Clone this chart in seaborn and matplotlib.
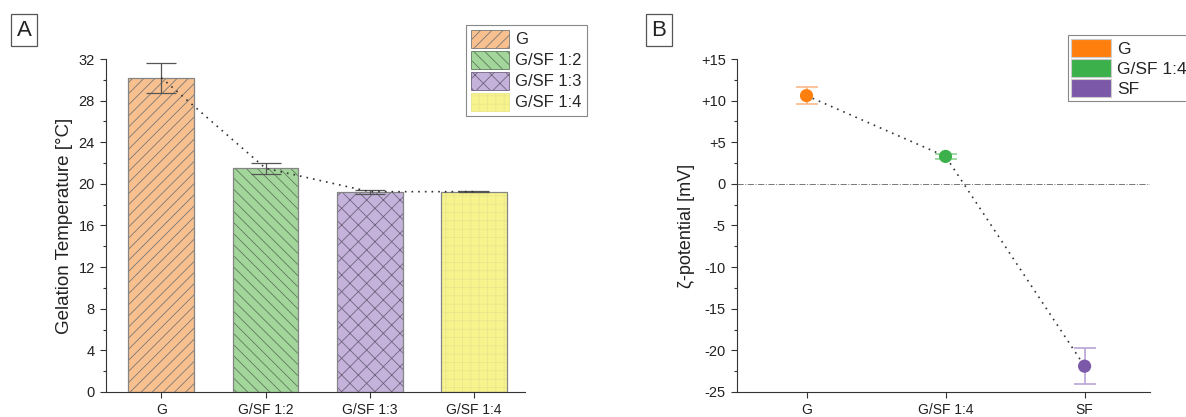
import matplotlib
matplotlib.use("Agg")
import matplotlib.pyplot as plt
import matplotlib.patches as mpatches
from matplotlib.ticker import MultipleLocator, FuncFormatter
import pandas as pd
import seaborn as sns

# --- data ---
gel_samples = ["G", "G/SF 1:2", "G/SF 1:3", "G/SF 1:4"]
gel_temp = [30.2, 21.5, 19.25, 19.25]
gel_err = [1.45, 0.55, 0.2, 0.05]

zeta_samples = ["G", "G/SF 1:4", "SF"]
zeta_mean = [10.6, 3.3, -21.9]
zeta_err = [1.05, 0.3, 2.2]

# styles
bar_colors = ["#F9C08F", "#A3D69B", "#C4B2DA", "#F7F48E"]
bar_hatches = ["///", "\\\\\\", "xx", "++"]
hatch_colors = ["#777777", "#5f7a5c", "#6f6480", "#eae68c"]
pt_colors = ["#FF7F0E", "#3CB04A", "#7B59A8"]
err_colors = ["#F9B98A", "#8ED394", "#B9A5D6"]
axis_col = "#333333"
edge_col = "#858585"

sns.set_style("ticks")
plt.rcParams["font.family"] = ["Liberation Sans", "DejaVu Sans"]
plt.rcParams["hatch.linewidth"] = 0.6
plt.rcParams["axes.edgecolor"] = axis_col
plt.rcParams["xtick.color"] = axis_col
plt.rcParams["ytick.color"] = axis_col

fig = plt.figure(figsize=(11.86, 4.17), dpi=100)
ax_a = fig.add_axes([0.0894, 0.06, 0.3533, 0.7985])
ax_b = fig.add_axes([0.6214, 0.06, 0.3482, 0.7985])

# ---------- panel A ----------
df_a = pd.DataFrame({"sample": gel_samples, "temp": gel_temp})
sns.barplot(data=df_a, x="sample", y="temp", hue="sample", palette=bar_colors,
            saturation=1, width=0.63, linewidth=0.6, legend=False, ax=ax_a)
# hatch takes the patch edge colour, so draw the outline separately
for patch, h, hc in zip(ax_a.patches, bar_hatches, hatch_colors):
    patch.set_hatch(h)
    patch.set_edgecolor(hc)
    bb = patch.get_bbox()
    ax_a.add_patch(mpatches.Rectangle((bb.x0, bb.y0), bb.width, bb.height, fill=False,
                                      edgecolor=edge_col, linewidth=0.9, zorder=3))
ax_a.errorbar(range(len(gel_samples)), gel_temp, yerr=gel_err, fmt="none",
              ecolor="#555555", elinewidth=0.9, capsize=11, capthick=0.9, zorder=5)
ax_a.plot(range(len(gel_samples)), gel_temp, linestyle=(0, (1, 3)), color="#333333",
          linewidth=1.2, zorder=6)

ax_a.set_xlim(-0.53, 3.49)
ax_a.set_ylim(0, 32)
ax_a.yaxis.set_major_locator(MultipleLocator(4))
ax_a.yaxis.set_minor_locator(MultipleLocator(2))
ax_a.set_xlabel("")
ax_a.set_ylabel("Gelation Temperature [°C]", fontsize=13.5, color="#222222", labelpad=4)
ax_a.tick_params(axis="both", labelsize=10.5, labelcolor="#222222", length=4.5, width=0.8)
ax_a.tick_params(axis="x", labelsize=10)
ax_a.tick_params(axis="y", which="minor", length=2.5, width=0.8)
sns.despine(ax=ax_a)

handles_a = [mpatches.Patch(facecolor=c, hatch=h, edgecolor=hc, linewidth=0.6, label=s)
             for c, h, hc, s in zip(bar_colors, bar_hatches, hatch_colors, gel_samples)]
leg_a = fig.legend(handles=handles_a, loc="upper left", bbox_to_anchor=(0.393, 0.94),
                   borderaxespad=0, fontsize=12, handlelength=2.3, handleheight=1.25,
                   labelspacing=0.2, handletextpad=0.35, borderpad=0.3, fancybox=False,
                   framealpha=1, edgecolor="#888888")
leg_a.get_frame().set_linewidth(0.8)

# ---------- panel B ----------
df_b = pd.DataFrame({"sample": zeta_samples, "zeta": zeta_mean})
ax_b.axhline(0, color="#777777", linestyle="-.", linewidth=0.7, zorder=1)
ax_b.plot(range(len(zeta_samples)), zeta_mean, linestyle=(0, (1, 3)), color="#333333",
          linewidth=1.2, zorder=2)
for i in range(len(zeta_samples)):
    ax_b.errorbar(i, zeta_mean[i], yerr=zeta_err[i], fmt="none", ecolor=err_colors[i],
                  elinewidth=1.2, capsize=8, capthick=1.2, zorder=3)
sns.scatterplot(data=df_b, x="sample", y="zeta", hue="sample", palette=pt_colors,
                s=90, edgecolor="none", legend=False, zorder=4, ax=ax_b)

ax_b.set_xlim(-0.5, 2.47)
ax_b.set_ylim(-25, 15)
ax_b.yaxis.set_major_locator(MultipleLocator(5))
ax_b.yaxis.set_minor_locator(MultipleLocator(2.5))
ax_b.yaxis.set_major_formatter(FuncFormatter(lambda v, p: f"+{v:g}" if v > 0 else f"{v:g}"))
ax_b.set_xlabel("")
ax_b.set_ylabel("ζ-potential [mV]", fontsize=13, color="#222222", labelpad=4)
ax_b.tick_params(axis="both", labelsize=10.5, labelcolor="#222222", length=4.5, width=0.8)
ax_b.tick_params(axis="x", labelsize=10)
ax_b.tick_params(axis="y", which="minor", length=2.5, width=0.8)
sns.despine(ax=ax_b)

handles_b = [mpatches.Patch(facecolor=c, edgecolor="#cccccc", linewidth=0.8, label=s)
             for c, s in zip(pt_colors, zeta_samples)]
leg_b = fig.legend(handles=handles_b, loc="upper left", bbox_to_anchor=(0.9005, 0.916),
                   borderaxespad=0, fontsize=12.5, handlelength=2.3, handleheight=1.25,
                   labelspacing=0.1, handletextpad=0.35, borderpad=0.2, fancybox=False,
                   framealpha=1, edgecolor="#888888")
leg_b.get_frame().set_linewidth(0.8)

# panel letters
for x, letter in [(0.0202, "A"), (0.5555, "B")]:
    fig.text(x, 0.927, letter, fontsize=16, color="#222222", va="center", ha="center",
             bbox=dict(boxstyle="square,pad=0.25", facecolor="white", edgecolor="#555555",
                       linewidth=0.9))

fig.savefig("out.png", dpi=100)
